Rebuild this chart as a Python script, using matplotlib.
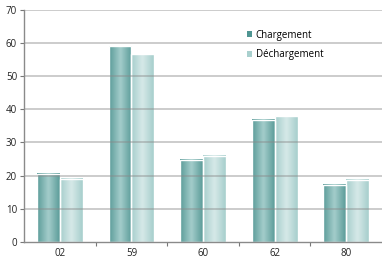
import matplotlib.pyplot as plt
import numpy as np
from matplotlib.colors import LinearSegmentedColormap
from matplotlib.patches import Patch

# data
categories = ['02', '59', '60', '62', '80']
chargement = [20.5, 59.0, 24.7, 36.8, 17.3]
dechargement = [19.1, 56.6, 26.0, 37.8, 18.8]
yticks = [0, 10, 20, 30, 40, 50, 60, 70]

plt.rcParams['font.family'] = ['Open Sans', 'DejaVu Sans']

fig = plt.figure(figsize=(3.82, 2.58), dpi=100)
ax = fig.add_axes([0.063, 0.062, 0.937, 0.901])

x = np.arange(len(categories))
w = 0.32

cm_c = LinearSegmentedColormap.from_list('c', ['#5b9c99', '#a4cdcb', '#5b9c99'])
cm_d = LinearSegmentedColormap.from_list('d', ['#a6cecc', '#d6e9e8', '#a6cecc'])
grad = np.linspace(0, 1, 64).reshape(1, -1)

bars_c = ax.bar(x - w / 2, chargement, w, color='none', edgecolor='white', lw=1.0, zorder=3)
bars_d = ax.bar(x + w / 2, dechargement, w, color='none', edgecolor='white', lw=1.0, zorder=3)

# gradient fill inside each bar
for bars, cm in ((bars_c, cm_c), (bars_d, cm_d)):
    for b in bars:
        x0, y0 = b.get_x(), b.get_y()
        ax.imshow(grad, cmap=cm, aspect='auto', interpolation='bicubic',
                  extent=(x0, x0 + b.get_width(), y0, y0 + b.get_height()),
                  zorder=2)

# gridlines over the bars, translucent
for yv in yticks[1:]:
    ax.axhline(yv, color='#8a8a8a', lw=1.1, alpha=0.55, zorder=4)

ax.set_xlim(-0.5, len(categories) - 0.5)
ax.set_ylim(0, 70)
ax.set_yticks(yticks)
ax.set_xticks(x)
ax.set_xticklabels(categories)
ax.set_xticks(np.arange(len(categories) - 1) + 0.5, minor=True)

ax.tick_params(axis='x', which='major', length=0, labelsize=7, pad=4, colors='#222222')
ax.tick_params(axis='x', which='minor', length=3, width=0.8, color='#777777', direction='out')
ax.tick_params(axis='y', length=3, width=0.8, color='#777777', labelsize=7, pad=2, labelcolor='#222222')

for s in ['top', 'right']:
    ax.spines[s].set_visible(False)
for s in ['left', 'bottom']:
    ax.spines[s].set_color('#8a8a8a')
    ax.spines[s].set_linewidth(1.0)
ax.spines['bottom'].set_zorder(5)

handles = [Patch(facecolor='#4f9592', edgecolor='none'),
           Patch(facecolor='#a9d0ce', edgecolor='none')]
leg = ax.legend(handles, ['Chargement', 'Déchargement'], loc='upper left',
                bbox_to_anchor=(0.612, 0.93), frameon=False, fontsize=7,
                handlelength=0.5, handleheight=0.5, handletextpad=0.4,
                labelspacing=0.9, borderaxespad=0)

fig.savefig('out.png', dpi=100)
